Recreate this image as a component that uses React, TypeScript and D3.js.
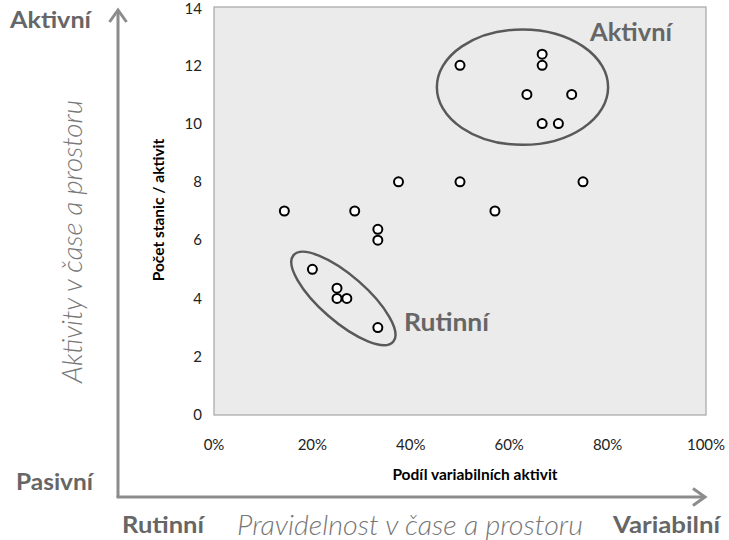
import React from "react";
import * as d3 from "d3";

const xValues = [0.143, 0.286, 0.333, 0.333, 0.2, 0.25, 0.25, 0.27, 0.333, 0.375, 0.5, 0.667, 0.667, 0.636, 0.727, 0.667, 0.7, 0.75, 0.5, 0.571];
const yValues = [7, 7, 6.37, 6, 5, 4.35, 4, 4, 3, 8, 12, 12.38, 12, 11, 11, 10, 10, 8, 8, 7];
const xTicks = [0, 0.2, 0.4, 0.6, 0.8, 1.0];
const yTicks = [0, 2, 4, 6, 8, 10, 12, 14];

const W = 729, H = 540;
const M = { left: 214, top: 7, right: 706, bottom: 415 };
const FONT = "Lato, 'Liberation Sans', sans-serif";
const GRAY = "#666666";

export default function App() {
  const x = d3.scaleLinear().domain([0, 1]).range([M.left, M.right]);
  const y = d3.scaleLinear().domain([0, 14]).range([M.bottom, M.top]);
  const pct = d3.format(".0%");

  const actCx = x(0.627), actCy = y(11.25);
  const actRx = x(0.174) - x(0), actRy = y(0) - y(1.98);
  const rutCx = x(0.263), rutCy = y(4.0);

  return (
    <svg width={W} height={H} style={{ position: "absolute", left: 0, top: 0, display: "block" }}>
      <rect x={0} y={0} width={W} height={H} fill="#ffffff" />
      <rect x={M.left} y={M.top} width={M.right - M.left} height={M.bottom - M.top} fill="#ebebeb" stroke="#a6a6a6" strokeWidth={1.2} />

      {yTicks.map((t) => (
        <text key={"y" + t} x={202} y={Math.max(y(t), 8.5)} dy="0.35em" textAnchor="end" fontFamily={FONT} fontSize={15} fill="#222">
          {t}
        </text>
      ))}
      {xTicks.map((t) => (
        <text key={"x" + t} x={x(t)} y={445} dy="0.35em" textAnchor="middle" fontFamily={FONT} fontSize={15} fill="#222">
          {pct(t)}
        </text>
      ))}

      <text x={475} y={475} dy="0.35em" textAnchor="middle" fontFamily={FONT} fontWeight="bold" fontSize={15.5} fill="#000">
        Podíl variabilních aktivit
      </text>
      <text transform={`translate(159,210) rotate(-90)`} dy="0.35em" textAnchor="middle" fontFamily={FONT} fontWeight="bold" fontSize={15.5} fill="#000">
        Počet stanic / aktivit
      </text>

      <ellipse cx={actCx} cy={actCy} rx={actRx} ry={actRy} fill="none" stroke="#595959" strokeWidth={2.5} />
      <ellipse cx={rutCx} cy={rutCy} rx={66} ry={23} transform={`rotate(41 ${rutCx} ${rutCy})`} fill="none" stroke="#595959" strokeWidth={2.5} />

      {xValues.map((v, i) => (
        <circle key={i} cx={x(v)} cy={y(yValues[i])} r={4.5} fill="#ffffff" stroke="#000" strokeWidth={2} />
      ))}

      <text x={590} y={41} fontFamily={FONT} fontWeight="bold" fontSize={25} textLength={82} lengthAdjust="spacingAndGlyphs" fill="#666">Aktivní</text>
      <text x={404} y={331} fontFamily={FONT} fontWeight="bold" fontSize={25} textLength={85} lengthAdjust="spacingAndGlyphs" fill="#666">Rutinní</text>

      <line x1={118} y1={11} x2={118} y2={497} stroke="#8c8c8c" strokeWidth={3} />
      <line x1={116.5} y1={497} x2={704} y2={497} stroke="#8c8c8c" strokeWidth={3} />
      <polyline points="109.5,22 118,10 126.5,22" fill="none" stroke="#8c8c8c" strokeWidth={3} />
      <polyline points="693,488.5 705,497 693,505.5" fill="none" stroke="#8c8c8c" strokeWidth={3} />

      <text x={10} y={28} fontFamily={FONT} fontWeight="bold" fontSize={23} textLength={81} lengthAdjust="spacingAndGlyphs" fill={GRAY}>Aktivní</text>
      <text x={16} y={490} fontFamily={FONT} fontWeight="bold" fontSize={23} textLength={77} lengthAdjust="spacingAndGlyphs" fill={GRAY}>Pasivní</text>
      <text x={122} y={533} fontFamily={FONT} fontWeight="bold" fontSize={23} textLength={82} lengthAdjust="spacingAndGlyphs" fill={GRAY}>Rutinní</text>
      <text x={613} y={533} fontFamily={FONT} fontWeight="bold" fontSize={23} textLength={107} lengthAdjust="spacingAndGlyphs" fill={GRAY}>Variabilní</text>
      <text x={237} y={535} fontFamily={FONT} fontStyle="italic" fontWeight={300} fontSize={27} textLength={346} lengthAdjust="spacingAndGlyphs" fill="#777">Pravidelnost v čase a prostoru</text>
      <text transform={`translate(82,383) rotate(-90)`} fontFamily={FONT} fontStyle="italic" fontWeight={300} fontSize={27} textLength={283} lengthAdjust="spacingAndGlyphs" fill="#777">
        Aktivity v čase a prostoru
      </text>
    </svg>
  );
}
